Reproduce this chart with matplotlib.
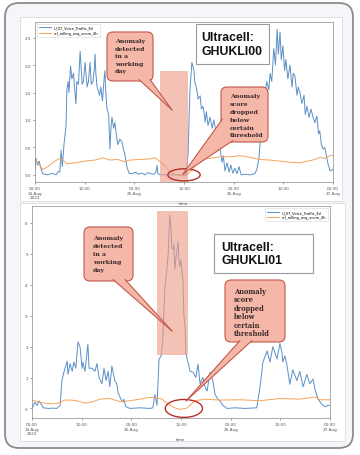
import matplotlib.pyplot as plt
from matplotlib.patches import FancyBboxPatch, Rectangle, Ellipse, Polygon

# hours since 24-Aug-2022 00:00 and values
top_blue_h = [0.0, 0.25, 0.6, 1.0, 1.5, 1.9, 3.1, 4.1, 5.1, 5.6, 6.0, 6.3, 6.6, 7.0, 7.5, 7.7,
              8.0, 8.2, 8.6, 8.9, 9.3, 9.7, 9.9, 10.1, 10.5, 10.9, 11.1, 11.4, 11.7, 12.1, 12.3,
              12.6, 12.9, 13.3, 13.6, 14.0, 14.3, 14.5, 14.7, 15.0, 15.2, 15.6, 15.9, 16.3, 16.7,
              16.9, 17.1, 17.4, 17.8, 18.1, 18.4, 18.6, 19.0, 19.3, 19.7, 20.0, 20.5, 21.0, 21.4,
              21.7, 22.2, 22.7, 23.4, 24.4, 24.9, 25.8, 26.6, 27.3, 28.0, 28.7, 29.2, 29.5, 29.7,
              30.2, 32.6, 35.0, 36.5, 37.0, 37.4, 37.9, 38.4, 38.6, 39.1, 39.4, 39.9, 40.2, 40.6,
              40.9, 41.1, 41.4, 41.8, 42.3, 42.8, 43.2, 43.7, 44.2, 44.7, 45.2, 45.5, 45.9, 46.4,
              46.9, 47.3, 47.8, 48.3, 48.8, 49.3, 49.8, 50.7, 51.9, 53.1, 53.6, 54.1, 54.6, 55.1,
              55.6, 56.0, 56.5, 56.8, 57.2, 57.7, 58.1, 58.5, 58.8, 59.2, 59.5, 59.9, 60.3, 60.6,
              61.1, 61.6, 62.1, 62.4, 62.8, 63.3, 63.6, 64.0, 64.5, 65.0, 65.3, 65.7, 66.2, 66.7,
              67.1, 67.6, 68.1, 68.5, 68.8, 69.2, 69.6, 70.0, 70.4, 70.8, 71.3, 72.0]
top_blue_v = [0.12, 0.3, 0.18, 0.25, 0.1, 0.02, 0.0, 0.03, 0.0, 0.06, 0.05, 0.45, 0.15, 0.55, 0.9, 1.55,
              1.7, 1.5, 1.98, 1.75, 1.85, 1.45, 1.3, 1.7, 1.65, 2.25, 2.0, 1.65, 1.7, 2.05, 1.85,
              1.6, 1.7, 2.05, 1.65, 1.7, 1.9, 2.2, 1.85, 1.6, 1.55, 1.45, 1.6, 1.35, 1.75,
              1.9, 1.5, 1.2, 1.1, 0.47, 0.9, 1.05, 0.85, 0.95, 0.7, 0.55, 0.65, 0.6, 0.45,
              0.38, 0.15, 0.03, 0.02, 0.05, 0.01, 0.03, 0.0, 0.04, 0.02, 0.01, 0.05, 0.17, 0.02,
              0.0, 0.0, 0.0, 0.0, 0.4, 1.5, 2.05, 1.9, 1.7, 1.55, 1.38, 1.44, 1.2, 1.25,
              1.1, 0.96, 1.15, 0.9, 1.05, 0.85, 1.0, 0.8, 0.84, 0.47, 0.23, 0.35, 0.07, 0.22,
              0.05, 0.18, 0.03, 0.12, 0.02, 0.15, 0.0, 0.01, 0.0, 0.02, 0.1, 0.3, 0.8, 1.3,
              1.5, 1.7, 1.55, 1.85, 1.7, 2.3, 2.0, 2.65, 2.2, 2.6, 2.1, 2.35, 1.9, 2.1,
              1.75, 2.0, 1.6, 1.85, 1.8, 1.45, 1.6, 1.5, 1.3, 1.45, 1.1, 1.25, 1.05, 1.2,
              1.07, 0.95, 1.07, 0.75, 0.8, 0.55, 0.47, 0.5, 0.35, 0.2, 0.07, 0.1]

top_orange_h = [0.0, 0.7, 1.9, 3.1, 4.8, 6.0, 7.0, 7.7, 9.7, 12.1, 14.5, 16.4, 18.1, 20.0, 21.7,
                22.9, 25.4, 27.8, 29.0, 29.7, 30.9, 32.1, 33.1, 34.5, 36.5, 37.4, 39.1, 40.6,
                42.3, 44.7, 47.1, 49.5, 51.9, 54.3, 56.8, 59.2, 61.6, 64.0, 65.9, 67.6, 68.8,
                70.0, 71.3, 72.0]
top_orange_v = [0.3, 0.2, 0.1, 0.15, 0.25, 0.3, 0.25, 0.2, 0.22, 0.25, 0.27, 0.31, 0.27, 0.28, 0.24,
                0.27, 0.28, 0.29, 0.31, 0.27, 0.2, 0.1, 0.03, -0.01, -0.02, 0.05, 0.2, 0.29,
                0.3, 0.33, 0.33, 0.35, 0.32, 0.28, 0.27, 0.25, 0.23, 0.22, 0.25, 0.28, 0.32,
                0.3, 0.35, 0.35]

bot_blue_h = [0.0, 0.7, 1.2, 1.7, 2.4, 2.7, 3.9, 5.1, 6.0, 6.8, 7.2, 7.7, 8.5, 8.7, 9.2, 9.7,
              10.1, 10.6, 11.1, 11.6, 12.1, 12.3, 12.8, 13.5, 13.8, 14.5, 15.2, 15.7, 16.2, 16.9,
              17.4, 17.9, 18.4, 18.8, 19.3, 20.0, 20.5, 20.8, 21.5, 22.0, 22.2, 22.7, 23.7, 26.1,
              28.5, 29.2, 29.7, 30.2, 30.7, 31.2, 31.6, 32.1, 32.6, 32.9, 33.3, 33.6, 33.8, 34.1,
              34.3, 34.5, 34.8, 35.3, 35.5, 35.7, 36.0, 36.5, 36.7, 37.0, 37.2, 37.7, 38.2, 38.9,
              39.6, 40.1, 40.6, 41.3, 41.8, 42.3, 43.0, 43.7, 44.2, 44.9, 45.4, 46.1, 47.1, 49.0,
              51.4, 54.3, 55.1, 55.8, 56.8, 57.5, 58.2, 59.2, 59.9, 60.4, 60.6, 61.1, 61.6, 62.3,
              63.0, 64.0, 64.7, 65.5, 66.4, 67.1, 67.9, 68.4, 69.1, 70.0, 70.8, 71.5, 72.0]
bot_blue_v = [0.0, 0.2, 0.1, 0.24, 0.1, 0.02, 0.0, 0.01, 0.0, 0.1, 0.88, 1.17, 1.53, 1.1, 1.45, 1.2,
              1.5, 1.3, 2.15, 2.0, 1.3, 1.5, 1.2, 2.08, 1.3, 1.3, 1.2, 1.45, 1.0, 0.8,
              1.3, 0.9, 1.2, 0.7, 1.37, 0.9, 0.8, 0.5, 0.3, 0.2, 0.3, 0.05, 0.0, 0.02,
              0.0, 0.02, 0.45, 0.1, 1.6, 1.7, 2.2, 3.9, 4.5, 5.0, 6.25, 5.8, 5.2, 5.15,
              5.3, 4.5, 4.9, 5.4, 4.8, 4.6, 4.8, 4.1, 3.0, 2.6, 1.76, 1.49, 1.2, 1.17,
              1.0, 1.43, 0.8, 1.0, 0.7, 0.56, 1.17, 0.9, 0.46, 0.3, 0.25, 0.1, 0.0, 0.02,
              0.0, 0.02, 0.7, 1.5, 1.86, 1.5, 2.0, 1.6, 2.1, 1.8, 1.5, 1.7, 1.4, 0.78,
              1.25, 0.9, 1.2, 0.7, 1.1, 0.8, 0.95, 0.6, 0.3, 0.14, 0.05, 0.1, 0.1]

bot_orange_h = [0.0, 1.4, 3.1, 4.8, 6.0, 8.0, 9.7, 11.6, 13.0, 14.7, 16.4, 18.8, 20.0, 21.3, 23.7,
                26.1, 28.5, 30.0, 31.4, 32.9, 34.3, 35.7, 37.2, 38.2, 39.4, 41.8, 45.4, 50.2,
                55.1, 59.9, 64.7, 68.4, 69.6, 72.0]
bot_orange_v = [0.27, 0.22, 0.17, 0.15, 0.16, 0.27, 0.27, 0.22, 0.17, 0.22, 0.3, 0.32, 0.27, 0.22, 0.25,
                0.3, 0.36, 0.35, 0.3, 0.15, 0.03, -0.03, 0.0, 0.1, 0.25, 0.3, 0.27, 0.28,
                0.25, 0.32, 0.3, 0.37, 0.28, 0.28]

series_names = ["U_07_Voice_Traffic_Erl", "erl_rolling_avg_score_4h"]
tick_hours = [0, 12, 24, 36, 48, 60, 72]
tick_labels = ["00:00\n24-Aug\n2022", "12:00", "00:00\n25-Aug", "12:00",
               "00:00\n26-Aug", "12:00", "00:00\n27-Aug"]
top_yticks = [0.0, 0.5, 1.0, 1.5, 2.0, 2.5]
bot_yticks = [0, 1, 2, 3, 4, 5, 6]

cell_names = ["Ultracell:\nGHUKLI00", "Ultracell:\nGHUKLI01"]
note_detect = ["Anomaly", "detected", "in a", "working", "day"]
note_drop = ["Anomaly", "score", "dropped", "below", "certain", "threshold"]

# anomaly windows: hour start, hour end, value low, value high
top_window = (30.2, 37.0, -0.13, 1.89)
bot_window = (30.2, 37.6, 1.73, 6.39)
# dropped-score markers: centre hour, centre value, width (h), height
top_mark = (36.0, 0.0, 7.8, 0.22)
bot_mark = (36.7, 0.0, 9.0, 0.58)

W, H = 360, 456
fig = plt.figure(figsize=(W / 100, H / 100), dpi=100)
fig.patch.set_facecolor('white')


def px_rect(l, t, r, b):
    return [l / W, 1 - b / H, (r - l) / W, (b - t) / H]


# background frame and the two screenshot panels
bg = fig.add_axes([0, 0, 1, 1], zorder=0)
bg.set_xlim(0, W)
bg.set_ylim(H, 0)
bg.axis('off')
bg.add_patch(FancyBboxPatch((5, 4), 348, 445, boxstyle="round,pad=0,rounding_size=14",
                            fc='#f5f6f9', ec='#8c8c8c', lw=1.3))
bg.add_patch(Rectangle((20, 18), 322, 184, fc='white', ec='#dcdcdc', lw=0.6))
bg.add_patch(Rectangle((20, 204), 325, 238, fc='white', ec='#dcdcdc', lw=0.6))


def draw_chart(rect, bh, bv, oh, ov_, ylim, yticks, yfmt, legend_loc, window, mark):
    ax = fig.add_axes(px_rect(*rect), zorder=1)
    ax.set_facecolor('white')
    ax.plot(bh, bv, color='#5b8fc6', lw=0.7, label=series_names[0], zorder=2)
    ax.plot(oh, ov_, color='#f6a35a', lw=0.7, label=series_names[1], zorder=2)
    ax.set_xlim(0, 72)
    ax.set_ylim(*ylim)
    ax.set_xticks(tick_hours)
    ax.set_xticklabels(tick_labels)
    ax.set_yticks(yticks)
    ax.set_yticklabels([yfmt.format(t) for t in yticks])
    ax.tick_params(labelsize=3, length=1.5, width=0.4, pad=1.5, colors='#555555')
    for s in ax.spines.values():
        s.set_linewidth(0.5)
        s.set_color('#888888')
    ax.set_xlabel('time', fontsize=3, labelpad=1.5, color='#444444')
    leg = ax.legend(loc=legend_loc, fontsize=2.6, frameon=True, handlelength=3.2,
                    borderpad=0.6, labelspacing=0.35, fancybox=False, edgecolor='#cccccc')
    leg.get_frame().set_linewidth(0.4)
    x0, x1, y0, y1 = window
    ax.add_patch(Rectangle((x0, y0), x1 - x0, y1 - y0, fc='#ee9c88', alpha=0.62, lw=0, zorder=3))
    cx, cy, w, h = mark
    ax.add_patch(Ellipse((cx, cy), w, h, fill=False, ec='#b5302a', lw=1.0, zorder=4, clip_on=False))
    return ax


draw_chart((35, 22.7, 333, 183), top_blue_h, top_blue_v, top_orange_h, top_orange_v,
           (-0.13, 2.79), top_yticks, "{:.1f}", 'upper left', top_window, top_mark)
draw_chart((32, 207, 330, 419), bot_blue_h, bot_blue_v, bot_orange_h, bot_orange_v,
           (-0.31, 6.55), bot_yticks, "{:d}", 'upper right', bot_window, bot_mark)

# callouts and cell labels on top
ov = fig.add_axes([0, 0, 1, 1], zorder=5)
ov.set_xlim(0, W)
ov.set_ylim(H, 0)
ov.axis('off')

fill, edge = '#f5b7a8', '#c4574a'


def callout(box, tail, lines, fs, padx, first, step):
    l, t, r, b = box
    ov.add_patch(FancyBboxPatch((l, t), r - l, b - t, boxstyle='round,pad=0,rounding_size=6',
                                fc=fill, ec=edge, lw=0.8))
    ov.add_patch(Polygon(tail, closed=True, fc=fill, ec='none'))
    for p in tail[:2]:
        ov.plot([p[0], tail[2][0]], [p[1], tail[2][1]], color=edge, lw=0.8,
                solid_capstyle='round')
    # one text per line so the spacing follows the reference
    for i, line in enumerate(lines):
        ov.text(l + padx, t + first + i * step, line, fontsize=fs, fontweight='bold',
                family='DejaVu Serif', va='center', ha='left', color='#3a2a2a')


def cell_box(box, text, pad):
    l, t, r, b = box
    ov.add_patch(Rectangle((l, t), r - l, b - t, fc='white', ec='#9a9a9a', lw=0.8))
    ov.text(l + pad, (t + b) / 2, text, fontsize=8.8, fontweight='bold',
            family='Liberation Sans', va='center', ha='left', linespacing=1.2, color='#111111')


callout((107, 33, 153, 82), [(139, 80.5), (150, 80.5), (172, 111)], note_detect, 4.5, 8, 9, 7.5)
callout((221, 88, 268, 143), [(222.5, 120), (233, 141.5), (183, 175)], note_drop, 4.5, 9, 9, 7.8)
cell_box((196, 25, 269, 65), cell_names[0], 5)

callout((84, 228, 133, 282), [(113, 280.5), (125, 280.5), (172, 332)], note_detect, 4.5, 9, 11, 7.8)
callout((225, 281, 285, 343), [(240, 341.5), (252, 341.5), (186, 402)], note_drop, 4.8, 9, 11, 8.4)
cell_box((214, 235, 313, 274), cell_names[1], 7)

fig.savefig('out.png', dpi=100)
